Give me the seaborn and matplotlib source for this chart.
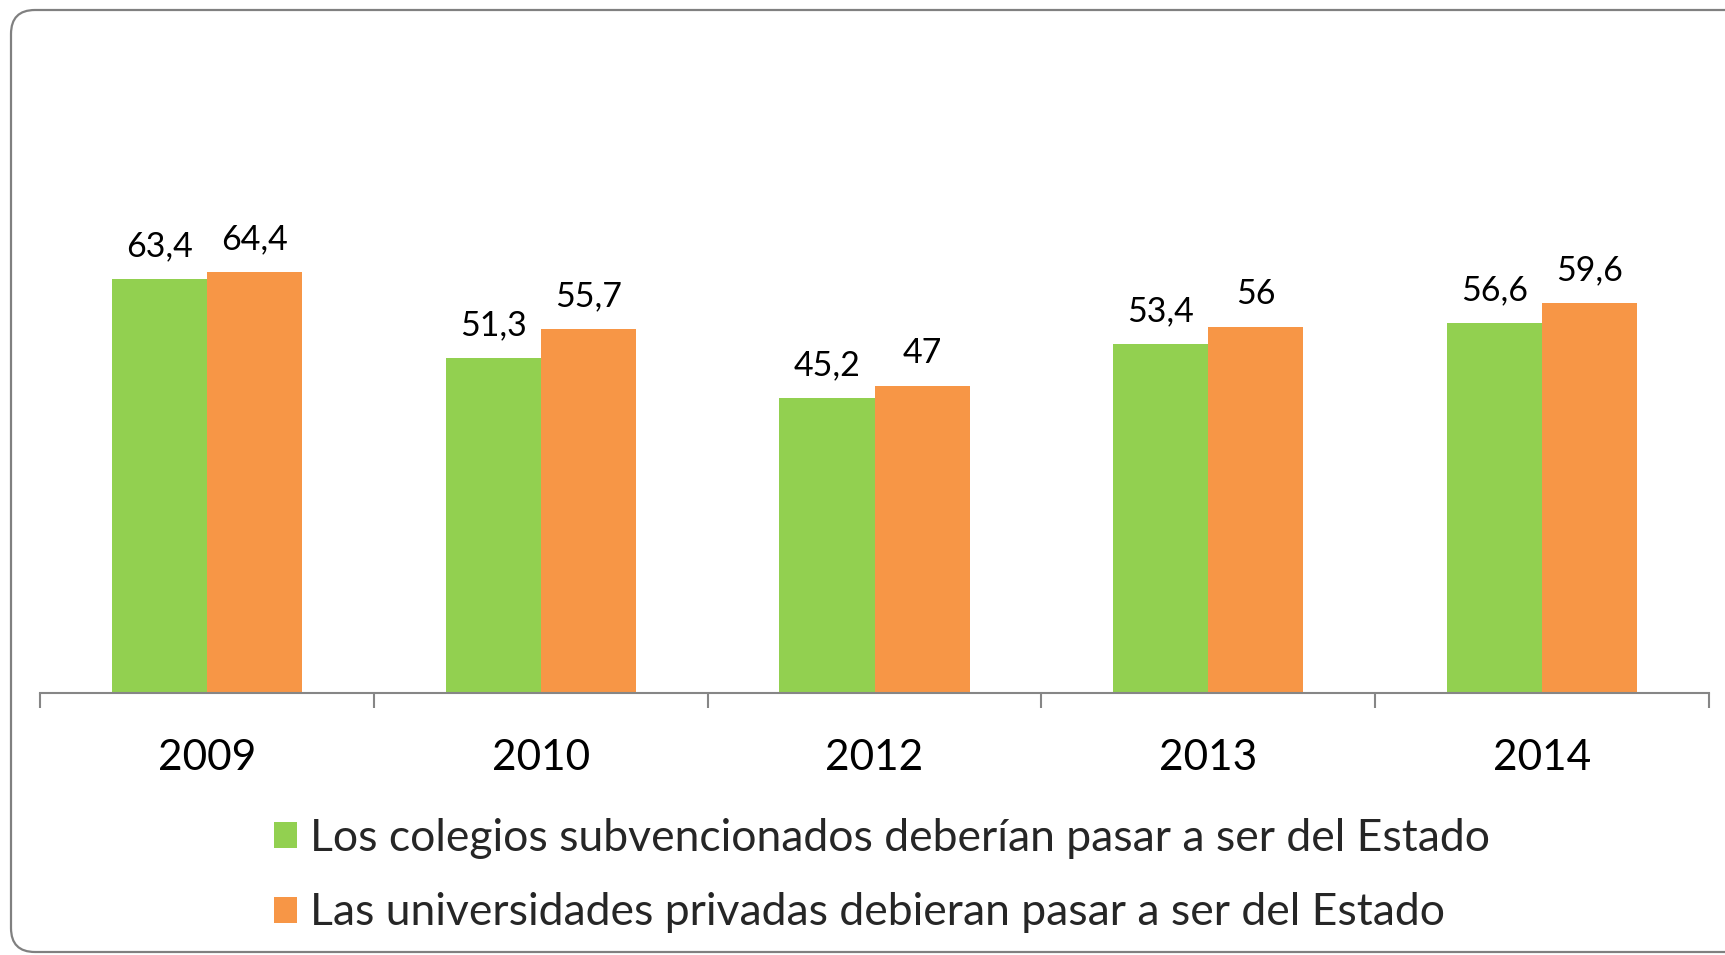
import numpy as np
import pandas as pd
import seaborn as sns
import matplotlib.pyplot as plt
from matplotlib.patches import FancyBboxPatch
from matplotlib.transforms import IdentityTransform

years = ["2009", "2010", "2012", "2013", "2014"]
colegios = [63.4, 51.3, 45.2, 53.4, 56.6]
universidades = [64.4, 55.7, 47.0, 56.0, 59.6]
series = ["Los colegios subvencionados deberían pasar a ser del Estado",
          "Las universidades privadas debieran pasar a ser del Estado"]
colors = ["#92D050", "#F79646"]

df = pd.DataFrame({
    "year": years * 2,
    "value": colegios + universidades,
    "serie": [series[0]] * len(years) + [series[1]] * len(years),
})

sns.set_theme(style="white")
plt.rcParams['font.family'] = ['Lato', 'DejaVu Sans']

W, H = 1725, 955
fig = plt.figure(figsize=(W / 100, H / 100), dpi=100)
ax = fig.add_axes([40 / W, 262 / H, 1669 / W, 523 / H])

sns.barplot(data=df, x="year", y="value", hue="serie", palette=colors,
            width=0.57, gap=0, linewidth=0, saturation=1, ax=ax, legend=True)

for cont in ax.containers:
    ax.bar_label(cont, labels=[f"{v:g}".replace(".", ",") for v in cont.datavalues],
                 padding=12, fontsize=24.5, color="black")

ax.set_xlim(-0.5, len(years) - 0.5)
ax.set_ylim(0, 80)
ax.set_xlabel("")
ax.set_ylabel("")
ax.set_yticks([])
for s in ["top", "right", "left"]:
    ax.spines[s].set_visible(False)
ax.spines["bottom"].set_color("#868686")
ax.spines["bottom"].set_linewidth(1.5)

# tick marks between categories, labels at centers
ax.set_xticks(np.arange(-0.5, len(years)), minor=True)
ax.tick_params(axis="x", which="minor", length=11, width=1.5, color="#868686",
               direction="out", bottom=True)
ax.tick_params(axis="x", which="major", length=0, pad=33, labelsize=30.5,
               labelcolor="black")

ax.legend_.remove()
handles, labels = ax.get_legend_handles_labels()
fig.legend(handles, labels, loc="upper left",
           bbox_to_anchor=(274 / W, 1 - 818 / H), frameon=False,
           fontsize=32, handlelength=0.52, handleheight=0.52,
           handletextpad=0.3, labelspacing=0.75, borderpad=0,
           borderaxespad=0)

# rounded frame around the chart
frame = FancyBboxPatch((11, 3), 1740, H - 13,
                       boxstyle="round,pad=0,rounding_size=24",
                       transform=IdentityTransform(), fill=False,
                       edgecolor="#808080", linewidth=1.6)
fig.add_artist(frame)

fig.savefig("out.png", dpi=100)
